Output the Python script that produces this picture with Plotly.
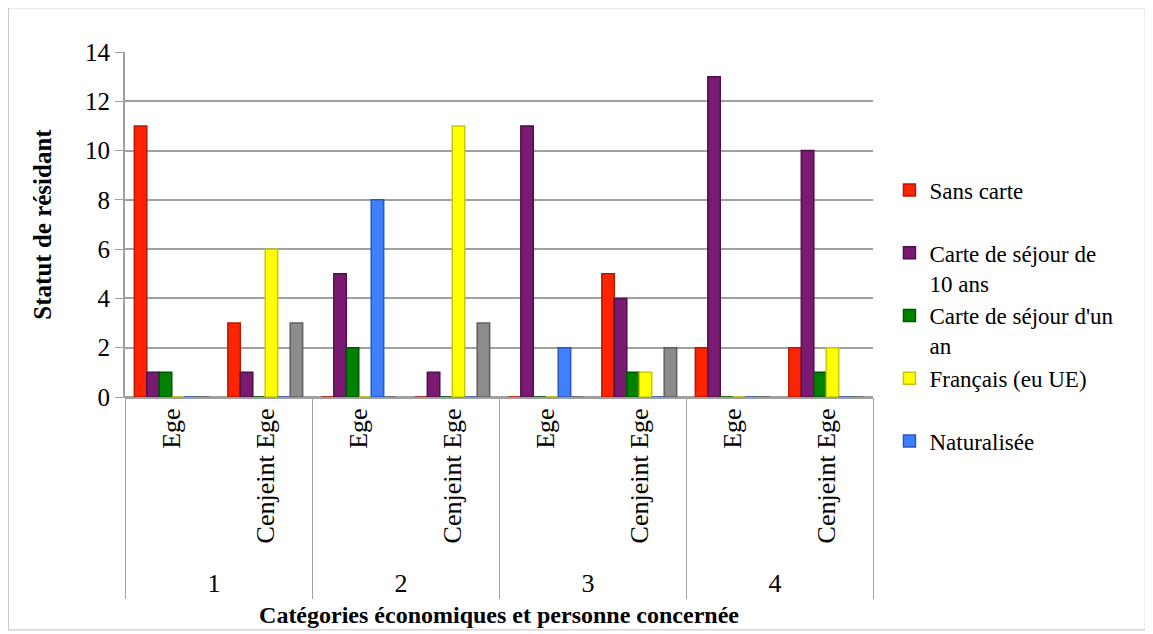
import plotly.graph_objects as go

# Data
groups = ["1", "1", "2", "2", "3", "3", "4", "4"]
persons = ["Ege", "Cenjeint Ege"] * 4

sans_carte = [11, 3, 0, 0, 0, 5, 2, 2]
carte_10_ans = [1, 1, 5, 1, 11, 4, 13, 10]
carte_un_an = [1, 0, 2, 0, 0, 1, 0, 1]
francais = [0, 6, 0, 11, 0, 1, 0, 2]
naturalisee = [0, 0, 8, 0, 2, 0, 0, 0]
autre = [0, 3, 0, 3, 0, 2, 0, 0]

series = [
    ("Sans carte<br>&nbsp;", sans_carte, "#FF2400", "#B31A00", True),
    ("Carte de séjour de<br>10 ans", carte_10_ans, "#7A1A72", "#4F0F4A", True),
    ("Carte de séjour d'un<br>an", carte_un_an, "#008200", "#005500", True),
    ("Français (eu UE)<br>&nbsp;", francais, "#FFFF00", "#C8C800", True),
    ("Naturalisée", naturalisee, "#4080FF", "#2A58B8", True),
    ("Autre", autre, "#8C8C8C", "#5F5F5F", False),
]

font_family = "Liberation Serif"

fig = go.Figure()
for name, values, color, edge, show in series:
    fig.add_trace(go.Bar(
        x=[groups, persons],
        y=values,
        name=name,
        showlegend=show,
        marker=dict(color=color, line=dict(color=edge, width=1.5)),
    ))

fig.update_layout(
    width=1153,
    height=634,
    barmode="group",
    bargap=0.2,
    bargroupgap=0.0,
    plot_bgcolor="white",
    paper_bgcolor="white",
    font=dict(family=font_family, size=22, color="black"),
    margin=dict(l=117, r=288, t=44, b=245, autoexpand=False),
    legend=dict(
        x=1.022, xanchor="left",
        y=0.235, yanchor="middle",
        font=dict(family=font_family, size=23, color="black"),
        valign="top",
        tracegroupgap=0,
        itemwidth=30,
    ),
    shapes=[dict(
        type="rect", xref="paper", yref="paper",
        x0=-0.156, x1=1.364, y0=-0.675, y1=1.128,
        line=dict(color="#BFBFBF", width=1),
    )],
)

fig.update_yaxes(
    range=[0, 14],
    dtick=2,
    showgrid=True,
    gridcolor="#A0A0A0",
    gridwidth=2,
    showline=True,
    linecolor="#A0A0A0",
    linewidth=2,
    ticks="outside",
    tickcolor="#A0A0A0",
    ticklen=8,
    tickfont=dict(family=font_family, size=25),
    zeroline=True,
    zerolinecolor="#A0A0A0",
    zerolinewidth=3,
    title=dict(text="<b>Statut de résidant</b>", font=dict(family=font_family, size=25), standoff=26),
)

fig.update_xaxes(
    type="multicategory",
    tickangle=-90,
    tickfont=dict(family=font_family, size=26),
    showdividers=True,
    dividercolor="#A0A0A0",
    dividerwidth=1,
    showline=True,
    linecolor="#A0A0A0",
    title=dict(text="<b>Catégories économiques et personne concernée</b>",
               font=dict(family=font_family, size=24), standoff=8),
)

fig.write_html("out.html")
